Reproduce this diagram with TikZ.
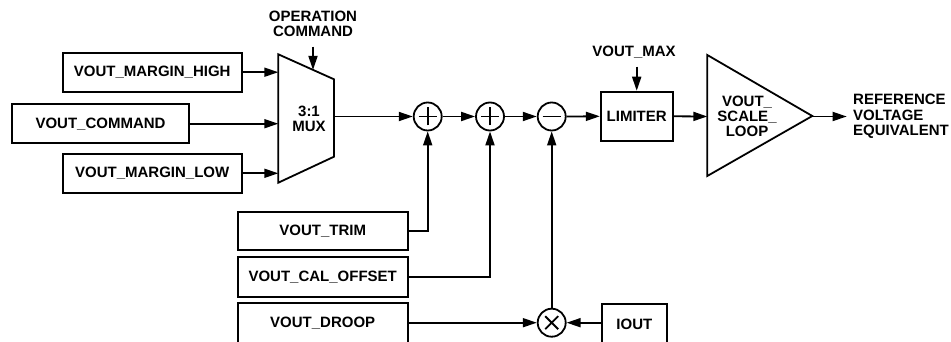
\documentclass[tikz,border=0pt]{standalone}
\usepackage{fontspec}
\setmainfont{Liberation Sans}
\usetikzlibrary{arrows.meta,calc}
\begin{document}
\begin{tikzpicture}[x=1pt,y=-1pt,
  lw/.style={line width=1.8pt},
  box/.style={draw,lw,rectangle,inner sep=0pt,font=\fontsize{15}{15.5}\selectfont\bfseries},
  lbl/.style={inner sep=0pt,align=center,font=\fontsize{15}{15.3}\selectfont\bfseries},
  sumc/.style={draw,lw,circle,minimum size=28pt,inner sep=0pt},
  conn/.style={lw,-{Triangle[length=14pt,width=9pt]}},
  wire/.style={lw}]
\useasboundingbox (0,0) rectangle (951,342);
\clip (0,0) rectangle (951,342);
% input boxes
\node[box,minimum width=179pt,minimum height=39pt] (high) at (152.2,72.2) {VOUT\_MARGIN\_HIGH};
\node[box,minimum width=177.6pt,minimum height=39.3pt] (cmd) at (100.5,123.7) {VOUT\_COMMAND};
\node[box,minimum width=179pt,minimum height=38.7pt] (low) at (152.2,173.3) {VOUT\_MARGIN\_LOW};
\node[box,minimum width=170pt,minimum height=38.3pt] (trim) at (322.7,230.8) {VOUT\_TRIM};
\node[box,minimum width=170pt,minimum height=39.4pt] (cal) at (322.7,277) {VOUT\_CAL\_OFFSET};
\node[box,minimum width=170pt,minimum height=40pt] (droop) at (322.7,323.3) {VOUT\_DROOP};
\node[box,minimum width=64.7pt,minimum height=40pt] (iout) at (634.4,324) {IOUT};
\node[box,minimum width=72pt,minimum height=49.3pt] (lim) at (636.7,116.3) {LIMITER};
% mux
\draw[lw] (278.3,54.3) -- (334,79.3) -- (334,156.7) -- (278.3,182.7) -- cycle;
\node[lbl] (mux) at (309,119) {3:1\\MUX};
\coordinate (muxin1) at (278.3,72.2);
\coordinate (muxin2) at (278.3,123.7);
\coordinate (muxin3) at (278.3,173.3);
\coordinate (muxout) at (334,116.5);
\node[lbl] (opcmd) at (313,23.5) {OPERATION\\COMMAND};
\coordinate (optop) at (313,46.7);
\coordinate (opin) at (313,69.9);
% summing circles
\node[sumc] (s1) at (427.7,116.5) {};
\node[sumc] (s2) at (490,116.5) {};
\node[sumc] (s3) at (551.7,116.5) {};
\node[sumc] (m) at (551.7,322.7) {};
\draw[wire] ([xshift=-9pt]s1.center) -- ([xshift=9pt]s1.center) ([yshift=-9pt]s1.center) -- ([yshift=9pt]s1.center);
\draw[wire] ([xshift=-9pt]s2.center) -- ([xshift=9pt]s2.center) ([yshift=-9pt]s2.center) -- ([yshift=9pt]s2.center);
\draw[wire] ([xshift=-9pt]s3.center) -- ([xshift=9pt]s3.center);
\draw[wire] ($(m.center)+(-6.5,-6.5)$) -- ($(m.center)+(6.5,6.5)$) ($(m.center)+(-6.5,6.5)$) -- ($(m.center)+(6.5,-6.5)$);
% amplifier
\draw[lw] (707.3,55) -- (812.3,116) -- (707.3,176) -- cycle;
\node[lbl] (amp) at (747,116.5) {VOUT\_\\SCALE\_\\LOOP};
\coordinate (ampin) at (707.3,116.5);
\coordinate (ampout) at (812.3,116.5);
\coordinate (refin) at (846.7,116.5);
\node[lbl,align=left,anchor=west] (ref) at (853,116.5) {REFERENCE\\VOLTAGE\\EQUIVALENT};
\node[lbl] (vmax) at (634,51.7) {VOUT\_MAX};
\coordinate (vmaxtop) at (636.7,66.7);
% connectors
\draw[conn] (high.east) -- (muxin1);
\draw[conn] (cmd.east) -- (muxin2);
\draw[conn] (low.east) -- (muxin3);
\draw[conn] (optop) -- (opin);
\draw[conn] (muxout) -- (s1.west);
\draw[conn] (s1.east) -- (s2.west);
\draw[conn] (s2.east) -- (s3.west);
\draw[conn] (s3.east) -- (lim.west);
\draw[conn] (vmaxtop) -- (lim.north);
\draw[conn] (lim.east) -- (ampin);
\draw[conn] (ampout) -- (refin);
\draw[conn] (trim.east) -| (s1.south);
\draw[conn] (cal.east) -| (s2.south);
\draw[conn] (droop.east |- m.west) -- (m.west);
\draw[conn] (iout.west |- m.east) -- (m.east);
\draw[conn] (m.north) -- (s3.south);
\end{tikzpicture}
\end{document}
